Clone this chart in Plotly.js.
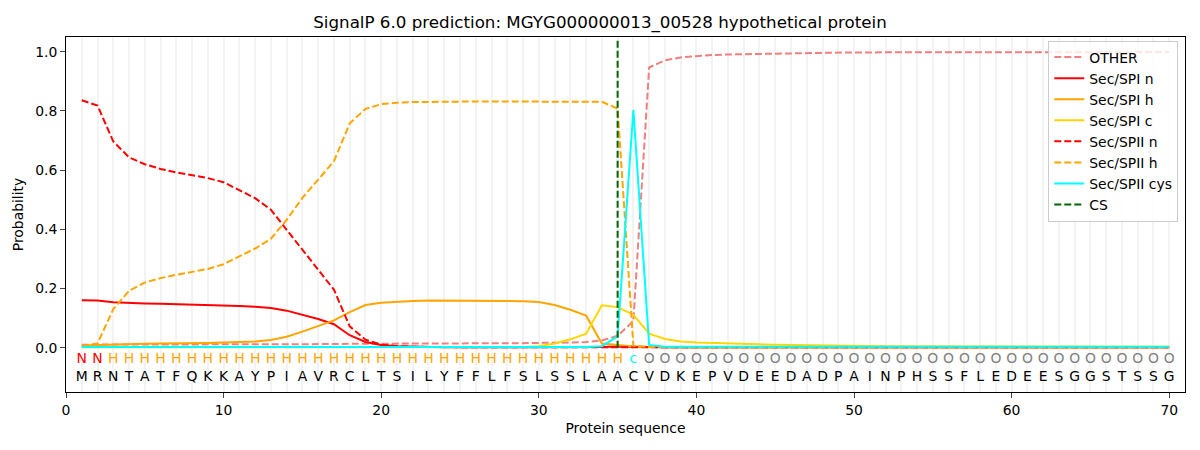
<!DOCTYPE html>
<html>
<head>
<meta charset="utf-8">
<script src="https://cdn.plot.ly/plotly-3.0.1.min.js"></script>
<style>
  html, body { margin: 0; padding: 0; background: #fff; }
  #chart { width: 1200px; height: 450px; }
</style>
</head>
<body>
<div id="chart"></div>
<script>
const sequence = 'MRNTATFQKKAYPIAVRCLTSILYFFLFSLSSLAACVDKEPVDEEDADPAINPHSSFLEDEESGGSTSSG'.split('');
const regionLabels = ['N', 'N'].concat(Array(33).fill('H'), ['c'], Array(34).fill('O'));
const residues = sequence.map((_, i) => i + 1);

const other = [
  0.010, 0.010, 0.010, 0.010, 0.010, 0.011, 0.011, 0.011, 0.011, 0.011,
  0.011, 0.011, 0.012, 0.012, 0.012, 0.012, 0.012, 0.013, 0.013, 0.013,
  0.013, 0.013, 0.013, 0.014, 0.014, 0.014, 0.014, 0.015, 0.015, 0.016,
  0.016, 0.017, 0.019, 0.024, 0.040, 0.090, 0.947, 0.971, 0.981, 0.986,
  0.989, 0.991, 0.992, 0.994, 0.995, 0.996, 0.996, 0.997, 0.997, 0.998,
  0.998, 0.998, 0.998, 0.998, 0.999, 0.999, 0.999, 0.999, 0.999, 0.999,
  0.999, 0.999, 0.999, 0.999, 0.999, 0.999, 0.999, 0.999, 0.999, 0.999,
];
const spiN = [
  0.160, 0.159, 0.153, 0.150, 0.149, 0.148, 0.147, 0.146, 0.145, 0.143,
  0.141, 0.138, 0.134, 0.125, 0.112, 0.097, 0.079, 0.042, 0.019, 0.009,
  0.005, 0.003, 0.002, 0.001, 0.001, 0.001, 0.001, 0.001, 0.001, 0.001,
  0.001, 0.001, 0.001, 0.002, 0.004, 0.004, 0.002, 0.001, 0.001, 0.001,
  0.001, 0.001, 0.001, 0.001, 0.001, 0.001, 0.001, 0.001, 0.001, 0.001,
  0.001, 0.001, 0.001, 0.001, 0.001, 0.001, 0.001, 0.001, 0.001, 0.001,
  0.001, 0.001, 0.001, 0.001, 0.001, 0.001, 0.001, 0.001, 0.001, 0.001,
];
const spiH = [
  0.007, 0.009, 0.010, 0.012, 0.013, 0.014, 0.014, 0.015, 0.016, 0.017,
  0.018, 0.021, 0.026, 0.037, 0.054, 0.072, 0.092, 0.120, 0.144, 0.152,
  0.156, 0.158, 0.159, 0.159, 0.159, 0.159, 0.159, 0.158, 0.157, 0.154,
  0.144, 0.128, 0.108, 0.014, 0.008, 0.004, 0.002, 0.001, 0.001, 0.001,
  0.001, 0.001, 0.001, 0.001, 0.001, 0.001, 0.001, 0.001, 0.001, 0.001,
  0.001, 0.001, 0.001, 0.001, 0.001, 0.001, 0.001, 0.001, 0.001, 0.001,
  0.001, 0.001, 0.001, 0.001, 0.001, 0.001, 0.001, 0.001, 0.001, 0.001,
];
const spiC = [
  0.001, 0.001, 0.001, 0.001, 0.001, 0.001, 0.001, 0.001, 0.001, 0.001,
  0.001, 0.001, 0.001, 0.001, 0.001, 0.001, 0.001, 0.001, 0.001, 0.001,
  0.001, 0.001, 0.001, 0.001, 0.001, 0.001, 0.001, 0.002, 0.002, 0.005,
  0.014, 0.028, 0.047, 0.143, 0.137, 0.111, 0.047, 0.029, 0.021, 0.017,
  0.015, 0.014, 0.012, 0.011, 0.010, 0.009, 0.008, 0.007, 0.006, 0.006,
  0.005, 0.005, 0.005, 0.005, 0.004, 0.004, 0.004, 0.004, 0.004, 0.004,
  0.003, 0.003, 0.003, 0.003, 0.003, 0.003, 0.003, 0.003, 0.003, 0.003,
];
const spiiN = [
  0.836, 0.818, 0.697, 0.643, 0.620, 0.604, 0.592, 0.582, 0.573, 0.559,
  0.532, 0.505, 0.466, 0.399, 0.331, 0.264, 0.196, 0.072, 0.027, 0.010,
  0.005, 0.003, 0.002, 0.001, 0.001, 0.001, 0.001, 0.001, 0.001, 0.001,
  0.001, 0.001, 0.001, 0.001, 0.001, 0.001, 0.001, 0.001, 0.001, 0.001,
  0.001, 0.001, 0.001, 0.001, 0.001, 0.001, 0.001, 0.001, 0.001, 0.001,
  0.001, 0.001, 0.001, 0.001, 0.001, 0.001, 0.001, 0.001, 0.001, 0.001,
  0.001, 0.001, 0.001, 0.001, 0.001, 0.001, 0.001, 0.001, 0.001, 0.001,
];
const spiiH = [
  0.004, 0.014, 0.130, 0.192, 0.220, 0.235, 0.246, 0.256, 0.266, 0.282,
  0.308, 0.335, 0.368, 0.432, 0.506, 0.568, 0.630, 0.758, 0.807, 0.823,
  0.828, 0.830, 0.831, 0.832, 0.832, 0.832, 0.832, 0.832, 0.832, 0.832,
  0.832, 0.832, 0.832, 0.831, 0.808, 0.006, 0.002, 0.001, 0.001, 0.001,
  0.001, 0.001, 0.001, 0.001, 0.001, 0.001, 0.001, 0.001, 0.001, 0.001,
  0.001, 0.001, 0.001, 0.001, 0.001, 0.001, 0.001, 0.001, 0.001, 0.001,
  0.001, 0.001, 0.001, 0.001, 0.001, 0.001, 0.001, 0.001, 0.001, 0.001,
];
const spiiCys = [
  0.002, 0.002, 0.002, 0.002, 0.002, 0.002, 0.002, 0.002, 0.002, 0.002,
  0.002, 0.002, 0.002, 0.002, 0.002, 0.002, 0.002, 0.002, 0.002, 0.002,
  0.002, 0.002, 0.002, 0.002, 0.002, 0.002, 0.002, 0.002, 0.002, 0.002,
  0.002, 0.002, 0.002, 0.005, 0.038, 0.804, 0.009, 0.003, 0.003, 0.003,
  0.003, 0.003, 0.003, 0.003, 0.003, 0.003, 0.003, 0.003, 0.003, 0.003,
  0.003, 0.003, 0.003, 0.003, 0.003, 0.003, 0.003, 0.003, 0.003, 0.003,
  0.003, 0.003, 0.003, 0.003, 0.003, 0.003, 0.003, 0.003, 0.003, 0.003,
];
const csX = [35, 35];
const csY = [0, 1.04];

const labelColors = { N: 'red', H: 'orange', c: 'cyan', O: 'grey' };
const dashed = '7px,3px';
const font = 'DejaVu Sans, sans-serif';
const gridColor = '#f3f3f3';

const seriesArr = [
  { name: 'OTHER', y: other, color: '#f08080', dash: dashed },
  { name: 'Sec/SPI n', y: spiN, color: 'red', dash: 'solid' },
  { name: 'Sec/SPI h', y: spiH, color: 'orange', dash: 'solid' },
  { name: 'Sec/SPI c', y: spiC, color: 'gold', dash: 'solid' },
  { name: 'Sec/SPII n', y: spiiN, color: 'red', dash: dashed },
  { name: 'Sec/SPII h', y: spiiH, color: 'orange', dash: dashed },
  { name: 'Sec/SPII cys', y: spiiCys, color: 'cyan', dash: 'solid' },
];

const traces = seriesArr.map((s) => ({
  x: residues,
  y: s.y,
  name: s.name,
  mode: 'lines',
  type: 'scatter',
  line: { color: s.color, width: 2, dash: s.dash },
}));

traces.push({
  x: csX,
  y: csY,
  name: 'CS',
  mode: 'lines',
  type: 'scatter',
  line: { color: 'darkgreen', width: 2, dash: dashed },
});

// region labels above the amino acid letters
traces.push({
  x: residues,
  y: residues.map(() => -0.04),
  text: regionLabels,
  mode: 'text',
  type: 'scatter',
  showlegend: false,
  hoverinfo: 'skip',
  textfont: { family: font, size: 13.9, color: regionLabels.map((l) => labelColors[l]) },
});

traces.push({
  x: residues,
  y: residues.map(() => -0.1),
  text: sequence,
  mode: 'text',
  type: 'scatter',
  showlegend: false,
  hoverinfo: 'skip',
  textfont: { family: font, size: 13.9, color: 'black' },
});

const layout = {
  width: 1200,
  height: 450,
  margin: { l: 66, r: 15, t: 37, b: 58 },
  paper_bgcolor: '#fff',
  plot_bgcolor: '#fff',
  font: { family: font, size: 13.9, color: 'black' },
  title: {
    text: 'SignalP 6.0 prediction: MGYG000000013_00528 hypothetical protein',
    font: { family: font, size: 16.7, color: 'black' },
    x: 0.5,
    xanchor: 'center',
    y: 0.95,
    yanchor: 'middle',
  },
  xaxis: {
    range: [0, 71],
    tick0: 0,
    dtick: 10,
    ticks: 'outside',
    ticklen: 5,
    tickwidth: 1,
    showline: true,
    linecolor: 'black',
    linewidth: 1,
    mirror: true,
    showgrid: true,
    gridcolor: gridColor,
    gridwidth: 1.5,
    zeroline: false,
    minor: { dtick: 1, tick0: 0, showgrid: true, gridcolor: gridColor, gridwidth: 1.5, ticks: '' },
    title: { text: 'Protein sequence', font: { family: font, size: 13.9 }, standoff: 6 },
  },
  yaxis: {
    range: [-0.15, 1.05],
    tickvals: [0, 0.2, 0.4, 0.6, 0.8, 1.0],
    ticktext: ['0.0', '0.2', '0.4', '0.6', '0.8', '1.0'],
    ticks: 'outside',
    ticklen: 5,
    tickwidth: 1,
    showline: true,
    linecolor: 'black',
    linewidth: 1,
    mirror: true,
    showgrid: false,
    zeroline: false,
    title: { text: 'Probability', font: { family: font, size: 13.9 }, standoff: 8 },
  },
  legend: {
    x: 0.994,
    y: 0.99,
    xanchor: 'right',
    yanchor: 'top',
    bgcolor: 'rgba(255,255,255,0.8)',
    bordercolor: '#cccccc',
    borderwidth: 1,
    font: { family: font, size: 13.9 },
    tracegroupgap: 0,
  },
  showlegend: true,
};

const config = { displayModeBar: false, responsive: false };

Plotly.newPlot('chart', traces, layout, config);
</script>
</body>
</html>
